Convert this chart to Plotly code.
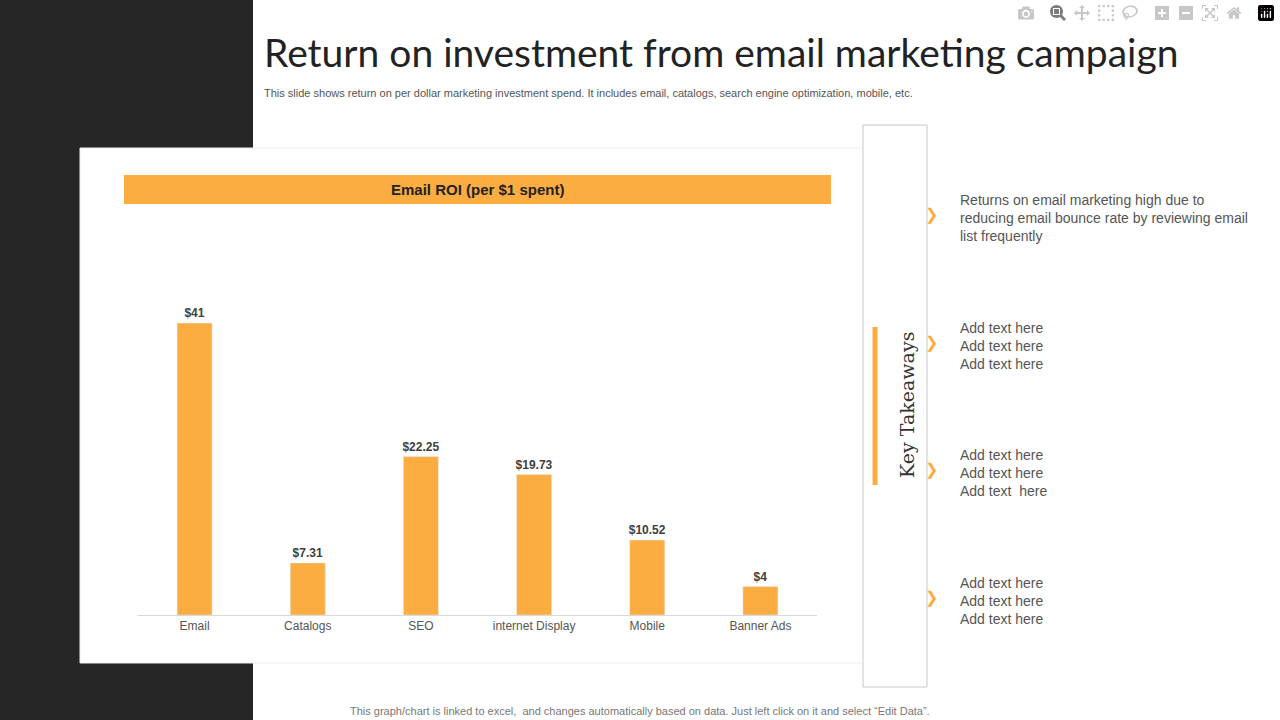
import plotly.graph_objects as go

categories = ["Email", "Catalogs", "SEO", "internet Display", "Mobile", "Banner Ads"]
values = [41, 7.31, 22.25, 19.73, 10.52, 4]
labels = ["<b>$41</b>", "<b>$7.31</b>", "<b>$22.25</b>", "<b>$19.73</b>", "<b>$10.52</b>", "<b>$4</b>"]
takeaways = [
    "Returns on email marketing high due to<br>reducing email bounce rate by reviewing email<br>list frequently",
    "Add text here<br>Add text here<br>Add text here",
    "Add text here<br>Add text here<br>Add text  here",
    "Add text here<br>Add text here<br>Add text here",
]
take_y = [214, 342, 469, 597]

W, H = 1280, 720
ORANGE = "#FBAD42"
def px(x): return x / W
def py(y): return 1 - y / H

fig = go.Figure(go.Bar(
    x=categories, y=values, text=labels, textposition="outside", constraintext="none",
    textfont=dict(family="Liberation Sans, Arial", size=12, color="#404040"),
    marker=dict(color=ORANGE), width=0.31, cliponaxis=False,
))
shapes = [
    dict(type="rect", xref="paper", yref="paper", x0=0, x1=px(253), y0=0, y1=1,
         fillcolor="#262626", line_width=0, layer="below"),
    dict(type="rect", xref="paper", yref="paper", x0=px(80), x1=px(877), y0=py(663), y1=py(148),
         fillcolor="white", line=dict(color="#eeeeee", width=1), layer="below"),
    dict(type="rect", xref="paper", yref="paper", x0=px(124), x1=px(831), y0=py(204), y1=py(175),
         fillcolor=ORANGE, line_width=0, layer="below"),
    dict(type="rect", xref="paper", yref="paper", x0=px(863), x1=px(927), y0=py(687), y1=py(125),
         fillcolor="white", line=dict(color="#c8c8c8", width=1)),
    dict(type="line", xref="paper", yref="paper", x0=px(875), x1=px(875), y0=py(485), y1=py(327),
         line=dict(color=ORANGE, width=5)),
]
P = dict(xref="paper", yref="paper", showarrow=False)
ann = [
    dict(text="Return on investment from email marketing campaign", x=px(262), y=py(52), xanchor="left",
         yanchor="middle", font=dict(family="Lato", size=39, color="#222222"), **P),
    dict(text="This slide shows return on per dollar marketing investment spend. It includes email, catalogs, search engine optimization, mobile, etc.",
         x=px(262), y=py(93), xanchor="left", yanchor="middle",
         font=dict(family="Liberation Sans, Arial", size=11, color="#555555"), **P),
    dict(text="<b>Email ROI (per $1 spent)</b>", x=px(477), y=py(190), xanchor="center", yanchor="middle",
         font=dict(family="Liberation Sans, Arial", size=15, color="#222222"), **P),
    dict(text="Key Takeaways", x=px(907), y=py(405), textangle=-90, xanchor="center", yanchor="middle",
         font=dict(family="DejaVu Serif, serif", size=19, color="#333333"), **P),
    dict(text="This graph/chart is linked to excel,  and changes automatically based on data. Just left click on it and select \u201cEdit Data\u201d.",
         x=px(640), y=py(711), xanchor="center", yanchor="middle",
         font=dict(family="Liberation Sans, Arial", size=11, color="#777777"), **P),
]
for t, yy in zip(takeaways, take_y):
    ann.append(dict(text="\u276F", x=px(931), y=py(yy), xanchor="center", yanchor="middle",
                    font=dict(size=16, color=ORANGE), **P))
    ann.append(dict(text=t, x=px(958), y=py(yy - 24), xanchor="left", yanchor="top", align="left",
                    font=dict(family="Liberation Sans, Arial", size=14, color="#555555"), **P))

fig.update_layout(
    width=W, height=H, margin=dict(l=0, r=0, t=0, b=0),
    paper_bgcolor="white", plot_bgcolor="rgba(0,0,0,0)", showlegend=False,
    shapes=shapes, annotations=ann, bargap=0.69,
    xaxis=dict(domain=[px(138), px(817)], showgrid=False, showline=True, linecolor="#d9d9d9",
               tickfont=dict(family="Liberation Sans, Arial", size=12, color="#555555"), ticks=""),
    yaxis=dict(domain=[py(615), py(230)], range=[0, 385 / 7.12], visible=False),
)
fig.write_html("out.html", post_script="document.body.style.margin='0';document.body.style.overflow='hidden';")
